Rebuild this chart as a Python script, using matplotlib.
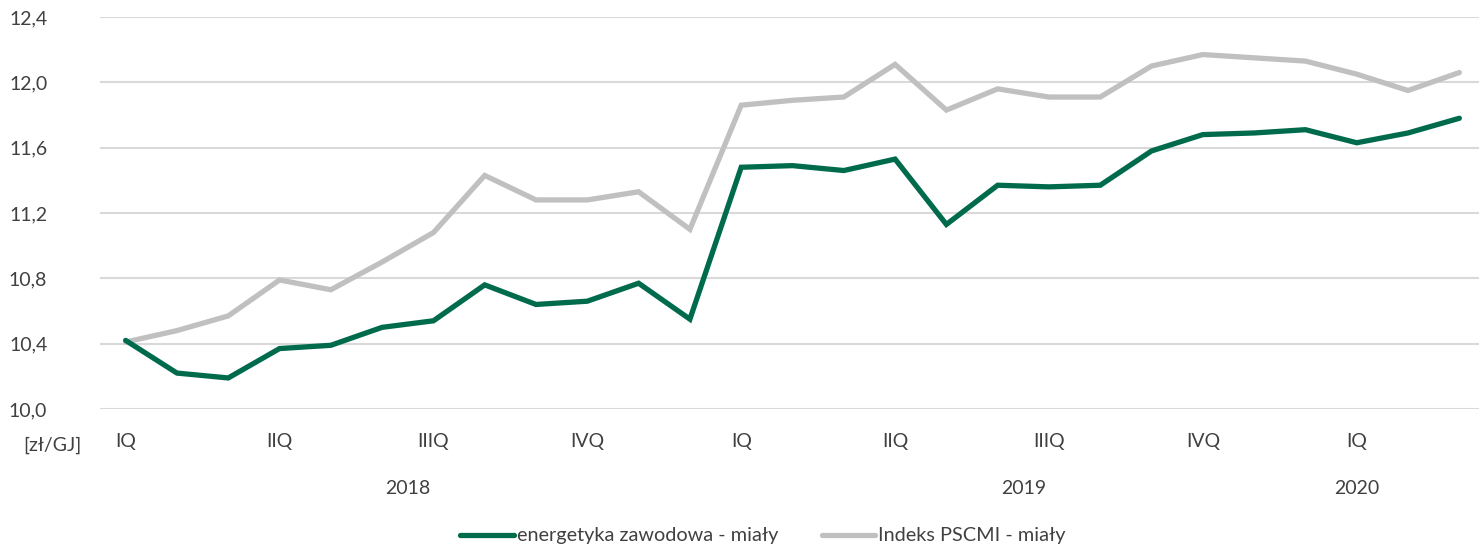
import matplotlib.pyplot as plt
import numpy as np

plt.rcParams['font.family'] = ['Lato', 'DejaVu Sans']

# monthly prices, Jan 2018 - Mar 2020 [zł/GJ]
energetyka = [10.42, 10.22, 10.19, 10.37, 10.39, 10.50, 10.54, 10.76, 10.64, 10.66, 10.77, 10.55,
              11.48, 11.49, 11.46, 11.53, 11.13, 11.37, 11.36, 11.37, 11.58, 11.68, 11.69, 11.71,
              11.63, 11.69, 11.78]
pscmi = [10.41, 10.48, 10.57, 10.79, 10.73, 10.90, 11.08, 11.43, 11.28, 11.28, 11.33, 11.10,
         11.86, 11.89, 11.91, 12.11, 11.83, 11.96, 11.91, 11.91, 12.10, 12.17, 12.15, 12.13,
         12.05, 11.95, 12.06]

quarter_labels = ['IQ', 'IIQ', 'IIIQ', 'IVQ', 'IQ', 'IIQ', 'IIIQ', 'IVQ', 'IQ']
quarter_pos = [0, 3, 6, 9, 12, 15, 18, 21, 24]
years = ['2018', '2019', '2020']
year_pos = [5.5, 17.5, 24]
yticks = [10.0, 10.4, 10.8, 11.2, 11.6, 12.0, 12.4]

green = '#006B4C'
grey = '#C0C0C0'
txt = '#404040'

fig = plt.figure(figsize=(14.79, 5.49), dpi=100)
ax = fig.add_axes([100 / 1479, 1 - 409 / 549, 1385 / 1479, 392 / 549])

x = np.arange(len(energetyka))
l1, = ax.plot(x, energetyka, color=green, lw=3.8, solid_joinstyle='miter', solid_capstyle='round',
              label='energetyka zawodowa - miały', zorder=3)
l2, = ax.plot(x, pscmi, color=grey, lw=3.8, solid_joinstyle='miter', solid_capstyle='round',
              label='Indeks PSCMI - miały', zorder=2)

ax.set_xlim(-0.5, len(x) - 0.5)
ax.set_ylim(10.0, 12.4)
ax.set_yticks(yticks)
ax.set_yticklabels([f'{v:.1f}'.replace('.', ',') for v in yticks], fontsize=14, color=txt)
ax.grid(axis='y', color='#D9D9D9', lw=1.5)
ax.set_axisbelow(True)
ax.set_xticks([])
ax.tick_params(axis='y', length=0, pad=38)
for s in ax.spines.values():
    s.set_visible(False)

tr = ax.get_xaxis_transform()
for lab, p in zip(quarter_labels, quarter_pos):
    ax.text(p, -0.083, lab, transform=tr, ha='center', va='center', fontsize=14, color=txt)
for lab, p in zip(years, year_pos):
    ax.text(p, -0.202, lab, transform=tr, ha='center', va='center', fontsize=14, color=txt)
fig.text(52 / 1479, 1 - 445 / 549, '[zł/GJ]', ha='center', va='center', fontsize=14, color=txt)

fig.legend(handles=[l1, l2], loc='center', bbox_to_anchor=(763 / 1479, 1 - 536 / 549), ncol=2,
           frameon=False, fontsize=14.3, handlelength=2.7, handletextpad=0.15, columnspacing=2.2,
           labelcolor=txt)

fig.savefig('out.png', dpi=100)
